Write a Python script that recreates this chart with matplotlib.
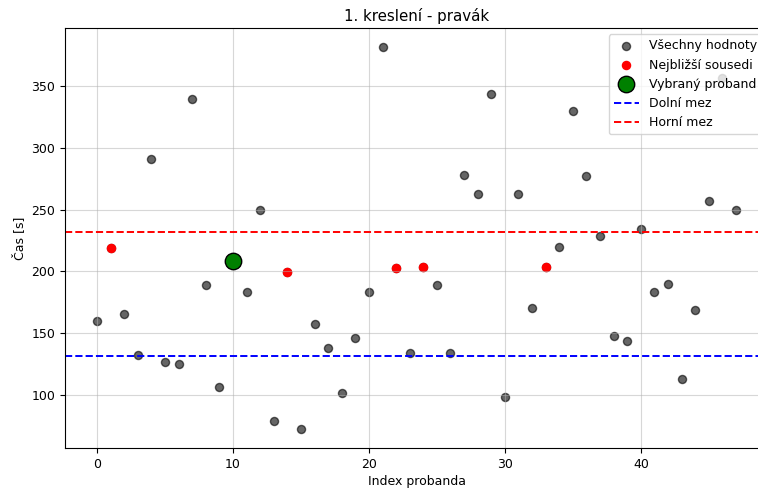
import matplotlib
matplotlib.use("Agg")
import matplotlib.pyplot as plt
import numpy as np

# Drawing times per participant (index = participant)
times = [159.3, 218.8, 165.7, 131.9, 291.0, 126.5, 125.2, 339.7, 188.5, 105.9,
         208.2, 183.3, 249.6, 78.9, 199.6, 72.2, 157.6, 137.6, 101.6, 145.7,
         182.8, 381.7, 202.5, 134.1, 203.6, 188.7, 134.1, 277.8, 262.9, 343.5,
         97.8, 262.9, 170.0, 203.6, 219.6, 329.5, 277.0, 228.2, 147.9, 143.8,
         234.5, 182.8, 189.5, 112.7, 168.7, 256.7, 357.0, 249.9]
selected = 10
neighbours = [1, 14, 22, 24, 33]
lower_bound = 131.4
upper_bound = 231.7

title = "1. kreslení - pravák"
xlabel = "Index probanda"
ylabel = "Čas [s]"

plt.rcParams["font.size"] = 9
plt.rcParams["axes.titlesize"] = 10.8

idx = np.arange(len(times))
vals = np.array(times)

fig = plt.figure(figsize=(7.58, 4.88), dpi=100)
W, H = 758, 488
ax = fig.add_axes([65 / W, (H - 448) / H, (768 - 65) / W, (448 - 28) / H])

ax.scatter(idx, vals, color="black", alpha=0.6, s=34, label="Všechny hodnoty")
nb = np.array(neighbours)
ax.scatter(nb, vals[nb], color="red", s=34, label="Nejbližší sousedi")
ax.scatter([selected], [vals[selected]], color="green", edgecolors="black",
           s=140, linewidths=1, label="Vybraný proband", zorder=3)
ax.axhline(lower_bound, color="blue", linestyle="--", linewidth=1.4, label="Dolní mez")
ax.axhline(upper_bound, color="red", linestyle="--", linewidth=1.4, label="Horní mez")

ax.set_title(title, pad=5)
ax.set_xlabel(xlabel, labelpad=3)
ax.set_ylabel(ylabel)
ax.grid(True, alpha=0.5)
ax.legend(loc="upper right")

fig.savefig("out.png", dpi=100)
